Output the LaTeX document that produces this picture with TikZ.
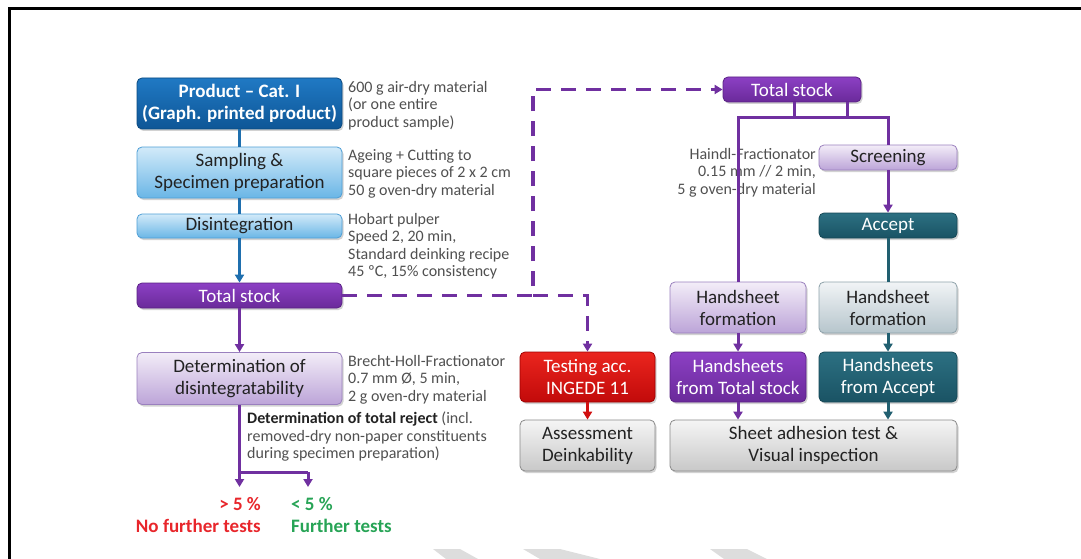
\documentclass[tikz,border=0pt]{standalone}
\usepackage{fontspec}
\setmainfont{Carlito}
\usetikzlibrary{arrows.meta,shadows}

\definecolor{pbTop}{HTML}{2079C4}
\definecolor{pbBot}{HTML}{0E5696}
\definecolor{pbLine}{HTML}{0B4A80}
\definecolor{lbTop}{HTML}{D2EAF9}
\definecolor{lbBot}{HTML}{6AB6E6}
\definecolor{lbLine}{HTML}{4F9FD6}
\definecolor{cBlue}{HTML}{1F6FAE}
\definecolor{puTop}{HTML}{8C40C4}
\definecolor{puBot}{HTML}{6A2A9A}
\definecolor{puLine}{HTML}{5A2285}
\definecolor{cPurple}{HTML}{7030A0}
\definecolor{lpTop}{HTML}{F3EDF8}
\definecolor{lpBot}{HTML}{BCA4D8}
\definecolor{lpLine}{HTML}{9A80BE}
\definecolor{teTop}{HTML}{2C7082}
\definecolor{teBot}{HTML}{1A5364}
\definecolor{teLine}{HTML}{164856}
\definecolor{cTeal}{HTML}{215F70}
\definecolor{ltTop}{HTML}{F1F4F6}
\definecolor{ltBot}{HTML}{B6C5CC}
\definecolor{ltLine}{HTML}{8EA2AA}
\definecolor{reTop}{HTML}{EA251E}
\definecolor{reBot}{HTML}{C20A0A}
\definecolor{reLine}{HTML}{9E0000}
\definecolor{cRed}{HTML}{D11010}
\definecolor{grTop}{HTML}{F5F5F5}
\definecolor{grBot}{HTML}{C8C8C8}
\definecolor{grLine}{HTML}{8A8A8A}
\definecolor{annoGray}{HTML}{505050}
\definecolor{boxText}{HTML}{222222}
\definecolor{pctRed}{HTML}{E8262B}
\definecolor{pctGreen}{HTML}{27A456}
\definecolor{markGray}{HTML}{DDDDDD}

\tikzset{
  box/.style={rounded corners=5pt, draw, line width=0.8pt, align=center,
    inner sep=0pt, text=boxText, font=\fontsize{19}{22}\selectfont,
    drop shadow={opacity=0.35, shadow xshift=1.5pt, shadow yshift=-2pt}},
  prodbox/.style={box, top color=pbTop, bottom color=pbBot, draw=pbLine,
    text=white, font=\bfseries\fontsize{19}{22}\selectfont},
  lbluebox/.style={box, top color=lbTop, bottom color=lbBot, draw=lbLine},
  purplebox/.style={box, top color=puTop, bottom color=puBot, draw=puLine, text=white},
  lpurplebox/.style={box, top color=lpTop, bottom color=lpBot, draw=lpLine},
  tealbox/.style={box, top color=teTop, bottom color=teBot, draw=teLine, text=white},
  ltealbox/.style={box, top color=ltTop, bottom color=ltBot, draw=ltLine},
  redbox/.style={box, top color=reTop, bottom color=reBot, draw=reLine, text=white},
  greybox/.style={box, top color=grTop, bottom color=grBot, draw=grLine},
  anno/.style={inner sep=0pt, text=annoGray, font=\fontsize{16}{17.5}\selectfont},
  pct/.style={inner sep=0pt, font=\bfseries\fontsize{19}{22}\selectfont},
  tip/.style={-{Triangle[length=8pt,width=9pt]}},
  bline/.style={draw=cBlue, line width=3pt},
  pline/.style={draw=cPurple, line width=3pt},
  tline/.style={draw=cTeal, line width=3pt},
  rline/.style={draw=cRed, line width=3pt},
  dline/.style={draw=cPurple, line width=3.5pt, dash pattern=on 15pt off 10pt},
}

\begin{document}
\begin{tikzpicture}[x=1pt,y=-1pt]
\useasboundingbox (0,0) rectangle (1081,559);
\fill[white] (0,0) rectangle (1081,559);

% outer frame
\draw[line width=3pt] (9,559) -- (9,9) -- (1081,9);

% faint marks along the lower edge
\fill[markGray] (433,549) -- (460,549) -- (478,559) -- (446,559) -- cycle;
\fill[markGray] (523,549) -- (560,549) -- (600,559) -- (540,559) -- cycle;
\fill[markGray] (710,549) -- (747,549) -- (767,559) -- (724,559) -- cycle;

% ---------- left column ----------
\node[prodbox, minimum width=205pt, minimum height=51pt] (prod) at (239.5,103.5)
  {Product -- Cat. I\\(Graph. printed product)};
\node[lbluebox, minimum width=205pt, minimum height=51pt] (samp) at (239.5,172.5)
  {Sampling \&\\Specimen preparation};
\node[lbluebox, minimum width=205pt, minimum height=24pt] (disint) at (239.5,226)
  {Disintegration};
\node[purplebox, minimum width=205pt, minimum height=25pt] (tsL) at (239.5,295.5)
  {Total stock};
\node[lpurplebox, minimum width=205pt, minimum height=52pt] (det) at (239.5,378.5)
  {Determination of\\disintegratability};

% notes beside the left column
\node[anno, anchor=north west, align=left] (n1) at (348,81)
  {600 g air-dry material\\(or one entire\\product sample)};
\node[anno, anchor=north west, align=left] (n2) at (348,149)
  {Ageing + Cutting to\\square pieces of 2 x 2 cm\\50 g oven-dry material};
\node[anno, anchor=north west, align=left] (n3) at (348,213)
  {Hobart pulper\\Speed 2, 20 min,\\Standard deinking recipe\\45 ºC, 15\% consistency};
\node[anno, anchor=north west, align=left] (n4) at (348,355)
  {Brecht-Holl-Fractionator\\0.7 mm Ø, 5 min,\\2 g oven-dry material};
\node[anno, anchor=north west, align=left] (n5) at (247,412)
  {\textcolor{boxText}{\bfseries Determination of total reject} (incl.\\removed-dry non-paper constituents\\during specimen preparation)};

% results of the reject determination
\node[pct, anchor=north east, align=right, text=pctRed] (gt) at (261,497)
  {> 5 \%\\No further tests};
\node[pct, anchor=north west, align=left, text=pctGreen] (lt) at (291,497)
  {< 5 \%\\Further tests};

% ---------- right part ----------
\node[purplebox, minimum width=138pt, minimum height=25pt] (tsR) at (792,89.5)
  {Total stock};
\node[lpurplebox, minimum width=138pt, minimum height=25pt] (scr) at (888,157.5)
  {Screening};
\node[tealbox, minimum width=138pt, minimum height=25pt] (acc) at (888,225.5)
  {Accept};
\node[anno, anchor=north east, align=right] (n6) at (816,148)
  {Haindl-Fractionator\\0.15 mm // 2 min,\\5 g oven-dry material};

\node[lpurplebox, minimum width=136pt, minimum height=51pt] (hfL) at (738,307.5)
  {Handsheet\\formation};
\node[ltealbox, minimum width=138pt, minimum height=51pt] (hfR) at (888,307.5)
  {Handsheet\\formation};
\node[redbox, minimum width=135pt, minimum height=50pt] (test) at (587.5,377)
  {Testing acc.\\INGEDE 11};
\node[purplebox, minimum width=136pt, minimum height=50pt] (hsL) at (738,377)
  {Handsheets\\from Total stock};
\node[tealbox, minimum width=138pt, minimum height=50pt] (hsR) at (888,377)
  {Handsheets\\from Accept};
\node[greybox, minimum width=135pt, minimum height=51pt] (assess) at (587.5,445.5)
  {Assessment\\Deinkability};
\node[greybox, minimum width=287pt, minimum height=51pt] (sheet) at (813.5,445.5)
  {Sheet adhesion test \&\\Visual inspection};

% ---------- connectors ----------
\draw[bline] (prod) -- (samp);
\draw[bline] (samp) -- (disint);
\draw[bline, tip] (disint) -- (tsL);
\draw[pline, tip] (tsL) -- (det);

\coordinate (d1) at (239.5,472);
\coordinate (d2) at (308,472);
\coordinate (e1) at (239.5,487);
\coordinate (e2) at (308,487);
\draw[pline] (det.south) -- (d1) -- (d2);
\draw[pline, tip] (d1) -- (e1);
\draw[pline, tip] (d2) -- (e2);

% dashed branches of the total stock
\coordinate (j1) at (533,295.5);
\coordinate (j2) at (533,89.5);
\draw[dline, tip] (tsL.east) -- (j1) -- (j2) -- (tsR.west);
\draw[dline, tip] (j1) -- (j1 -| test.north) -- (test.north);

% split below the right total stock
\coordinate (bL) at (738,118);
\coordinate (bR) at (888,118);
\coordinate (s1) at (794,118);
\coordinate (s2) at (847,118);
\draw[pline] (s1 |- tsR.south) -- (s1);
\draw[pline] (s2 |- tsR.south) -- (s2);
\draw[pline, line cap=rect] (bL) -- (bR);
\draw[pline] (bL) -- (hfL.north);
\draw[pline] (bR) -- (scr.north);
\draw[pline, tip] (scr) -- (acc);
\draw[tline] (acc) -- (hfR);

\draw[pline, tip] (hfL) -- (hsL);
\draw[tline, tip] (hfR) -- (hsR);
\draw[rline, tip] (test) -- (assess);
\draw[pline, tip] (hsL) -- (hsL |- sheet.north);
\draw[tline, tip] (hsR) -- (hsR |- sheet.north);
\end{tikzpicture}
\end{document}
